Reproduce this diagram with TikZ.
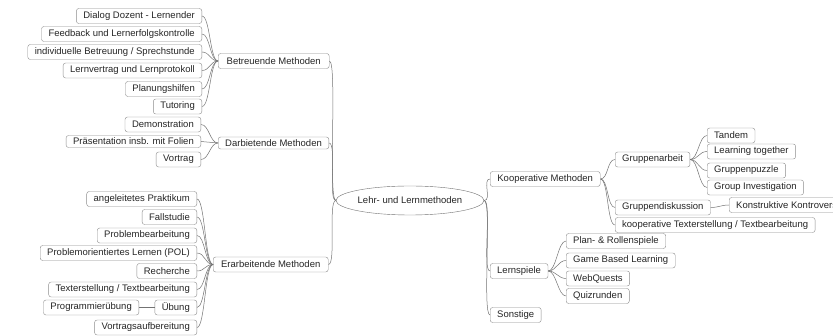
\documentclass[tikz,border=0pt]{standalone}
\usepackage{fontspec}
\setmainfont{Liberation Sans}
\usetikzlibrary{positioning}
\usetikzlibrary{calc}
\usetikzlibrary{shapes.geometric}

\begin{document}
\begin{tikzpicture}[x=1pt,y=-1pt,
	box/.style={rectangle,rounded corners=2.5pt,draw=black!45,fill=white,thin,font=\fontsize{9.5}{10}\selectfont,text=black!85,inner xsep=7pt,inner ysep=0pt,minimum height=15pt},
	lbox/.style={box,anchor=east},
	rbox/.style={box,anchor=west},
	flat/.style={minimum height=12pt},
	rootnode/.style={ellipse,draw=black!55,fill=white,font=\fontsize{9.5}{10}\selectfont,text=black!85,minimum width=134pt,minimum height=29pt,inner sep=0pt},
	conn/.style={draw=black!55,line width=.5pt},
	lnk/.style={to path={.. controls +(-8,0) and +(8,0) .. (\tikztotarget)}},
	rnk/.style={to path={.. controls +(8,0) and +(-8,0) .. (\tikztotarget)}}]
		\fill[white] (0,0) rectangle (833,336);
		\useasboundingbox (0,0) rectangle (833,336);
		% centre
		\node[rootnode] (root) at (410,200.5) {Lehr- und Lernmethoden};
		% betreuende methoden
		\node[rbox,minimum width=111pt] (betreuend) at (218,61) {Betreuende Methoden};
		\node[lbox] (dialog) at (202,16) {Dialog Dozent - Lernender};
		\node[lbox] (feedback) at (202,34) {Feedback und Lernerfolgskontrolle};
		\node[lbox] (betreuung) at (202,52) {individuelle Betreuung / Sprechstunde};
		\node[lbox] (lernvertrag) at (202,70.5) {Lernvertrag und Lernprotokoll};
		\node[lbox] (planung) at (202,89) {Planungshilfen};
		\node[lbox] (tutoring) at (202,106.5) {Tutoring};
		% darbietende methoden
		\node[rbox,flat,minimum width=110pt] (darbietend) at (218,143) {Darbietende Methoden};
		\node[lbox] (demo) at (201,124.5) {Demonstration};
		\node[lbox,flat] (praes) at (201,141.5) {Präsentation insb. mit Folien};
		\node[lbox] (vortrag) at (201,159.5) {Vortrag};
		% erarbeitende methoden
		\node[rbox,minimum width=115pt] (erarbeitend) at (213,264.5) {Erarbeitende Methoden};
		\node[lbox] (praktikum) at (197,199) {angeleitetes Praktikum};
		\node[lbox] (fallstudie) at (197,217) {Fallstudie};
		\node[lbox] (problem) at (197,235.5) {Problembearbeitung};
		\node[lbox] (pol) at (197,253) {Problemorientiertes Lernen (POL)};
		\node[lbox] (recherche) at (197,271) {Recherche};
		\node[lbox] (texte) at (197,289.5) {Texterstellung / Textbearbeitung};
		\node[lbox] (uebung) at (197,307.5) {Übung};
		\node[lbox] (progr) at (139,307.5) {Programmierübung};
		\node[lbox] (vaufb) at (197,327.5) {Vortragsaufbereitung};
		% kooperative methoden
		\node[rbox,minimum width=110pt] (koop) at (490,179) {Kooperative Methoden};
		\node[rbox] (garbeit) at (615,159.5) {Gruppenarbeit};
		\node[rbox] (tandem) at (707,135.5) {Tandem};
		\node[rbox] (together) at (707,151.5) {Learning together};
		\node[rbox] (puzzle) at (707,170.5) {Gruppenpuzzle};
		\node[rbox] (investigation) at (707,187.5) {Group Investigation};
		\node[rbox] (gdisk) at (615,207.5) {Gruppendiskussion};
		\node[rbox] (kontro) at (729,205) {Konstruktive Kontroverse};
		\node[rbox] (kooptext) at (615,225) {kooperative Texterstellung / Textbearbeitung};
		% lernspiele, sonstige
		\node[rbox] (lernspiele) at (490,271) {Lernspiele};
		\node[rbox] (rollen) at (566,241) {Plan- \& Rollenspiele};
		\node[rbox] (gbl) at (566,260.5) {Game Based Learning};
		\node[rbox] (webq) at (566,278.5) {WebQuests};
		\node[rbox] (quiz) at (566,296) {Quizrunden};
		\node[rbox] (sonstige) at (490,315) {Sonstige};
		% connectors
		\foreach \n in {betreuend,darbietend,erarbeitend}
			\draw[conn] (root.west) to[lnk] (\n.east);
		\foreach \n in {koop,lernspiele,sonstige}
			\draw[conn] (root.east) to[rnk] (\n.west);
		\foreach \n in {dialog,feedback,betreuung,lernvertrag,planung,tutoring}
			\draw[conn] (betreuend.west) to[lnk] (\n.east);
		\foreach \n in {demo,praes,vortrag}
			\draw[conn] (darbietend.west) to[lnk] (\n.east);
		\foreach \n in {praktikum,fallstudie,problem,pol,recherche,texte,uebung,vaufb}
			\draw[conn] (erarbeitend.west) to[lnk] (\n.east);
		\draw[conn] (uebung.west) to[lnk] (progr.east);
		\foreach \n in {garbeit,gdisk,kooptext}
			\draw[conn] (koop.east) to[rnk] (\n.west);
		\foreach \n in {tandem,together,puzzle,investigation}
			\draw[conn] (garbeit.east) to[rnk] (\n.west);
		\draw[conn] (gdisk.east) to[rnk] (kontro.west);
		\foreach \n in {rollen,gbl,webq,quiz}
			\draw[conn] (lernspiele.east) to[rnk] (\n.west);
	\end{tikzpicture}
\end{document}
